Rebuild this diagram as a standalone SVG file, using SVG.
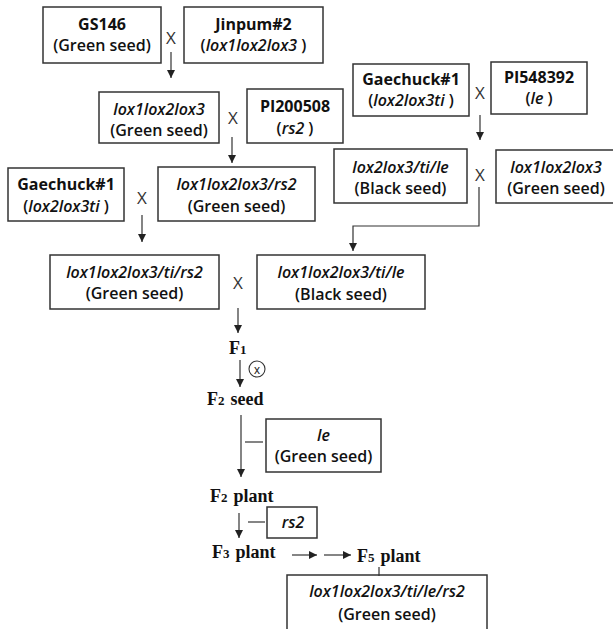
<svg xmlns="http://www.w3.org/2000/svg" width="613" height="629" viewBox="0 0 613 629">
<defs>
<marker id="ah" markerUnits="userSpaceOnUse" markerWidth="8" markerHeight="9" refX="8" refY="4" orient="auto">
<path d="M0,0 L8,4 L0,8 Z" fill="#222"/>
</marker>
<style>
.box{fill:#fff;stroke:#333;stroke-width:1.5}
.t{font-family:"Open Sans","Liberation Sans",sans-serif;font-size:16px;fill:#111;text-anchor:middle;font-weight:600}
.b{font-weight:700}
.i{font-style:italic}
.x{font-family:"Open Sans","Liberation Sans",sans-serif;font-size:17px;fill:#333;text-anchor:middle;font-weight:400}
.f{font-family:"Liberation Serif","Times New Roman",serif;font-size:18px;font-weight:700;fill:#111}
.fs{font-size:13px}
.c{stroke:#333;stroke-width:1.2;fill:none}
.a{stroke:#333;stroke-width:1.2;fill:none;marker-end:url(#ah)}
</style>
</defs>
<rect width="613" height="629" fill="#fff"/>

<g id="gs146"><rect class="box" x="43" y="7" width="118" height="56"/><text class="t b" x="102" y="30">GS146</text><text class="t" x="102" y="51">(Green seed)</text></g>
<g id="jinpum2"><rect class="box" x="184" y="7" width="139" height="56"/><text class="t b" x="253.5" y="30">Jinpum#2</text><text class="t" x="253.5" y="51">(<tspan class="i">lox1lox2lox3</tspan> )</text></g>
<g id="lox123a"><rect class="box" x="99" y="92" width="120" height="51"/><text class="t i" x="159" y="115">lox1lox2lox3</text><text class="t" x="159" y="136">(Green seed)</text></g>
<g id="pi200508"><rect class="box" x="247" y="89" width="96" height="54"/><text class="t b" x="295" y="112">PI200508</text><text class="t" x="295" y="134">(<tspan class="i">rs2</tspan> )</text></g>
<g id="gaechuck1r"><rect class="box" x="353" y="64" width="116" height="52"/><text class="t b" x="411" y="85">Gaechuck#1</text><text class="t" x="411" y="106">(<tspan class="i">lox2lox3ti</tspan> )</text></g>
<g id="pi548392"><rect class="box" x="491" y="62" width="96" height="52"/><text class="t b" x="539" y="83">PI548392</text><text class="t" x="539" y="104">(<tspan class="i">le</tspan> )</text></g>
<g id="lox23tile"><rect class="box" x="334" y="149" width="133" height="54"/><text class="t i" x="400.5" y="173">lox2lox3/ti/le</text><text class="t" x="400.5" y="194">(Black seed)</text></g>
<g id="lox123b"><rect class="box" x="496" y="150" width="124" height="53"/><text class="t i" x="556" y="173">lox1lox2lox3</text><text class="t" x="556" y="194">(Green seed)</text></g>
<g id="gaechuck1l"><rect class="box" x="8" y="168" width="116" height="53"/><text class="t b" x="66" y="190">Gaechuck#1</text><text class="t" x="66" y="212">(<tspan class="i">lox2lox3ti</tspan> )</text></g>
<g id="lox123rs2"><rect class="box" x="158" y="167" width="157" height="54"/><text class="t i" x="236.5" y="190">lox1lox2lox3/rs2</text><text class="t" x="236.5" y="212">(Green seed)</text></g>
<g id="lox123tirs2"><rect class="box" x="50" y="255" width="169" height="54"/><text class="t i" x="134.5" y="278">lox1lox2lox3/ti/rs2</text><text class="t" x="134.5" y="299">(Green seed)</text></g>
<g id="lox123tile"><rect class="box" x="257" y="255" width="168" height="54"/><text class="t i" x="341" y="278">lox1lox2lox3/ti/le</text><text class="t" x="341" y="300">(Black seed)</text></g>
<g id="le"><rect class="box" x="266" y="419" width="115" height="53"/><text class="t i" x="323.5" y="441">le</text><text class="t" x="323.5" y="462">(Green seed)</text></g>
<g id="rs2"><rect class="box" x="267" y="507" width="50" height="31"/><text class="t i" x="293" y="528">rs2</text></g>
<g id="final"><rect class="box" x="287" y="575" width="200" height="70"/><text class="t i" x="387" y="597">lox1lox2lox3/ti/le/rs2</text><text class="t" x="387" y="620">(Green seed)</text></g>

<g id="labels">
<text class="x" x="171" y="44">X</text>
<text class="x" x="233" y="124">X</text>
<text class="x" x="480" y="99">X</text>
<text class="x" x="480" y="181">X</text>
<text class="x" x="142" y="204">X</text>
<text class="x" x="238" y="289">X</text>
<text class="f" x="229" y="354">F<tspan class="fs">1</tspan></text>
<circle cx="257" cy="369" r="8" fill="none" stroke="#333" stroke-width="1.1"/>
<text x="257" y="373.5" font-family="Liberation Sans,sans-serif" font-size="12" text-anchor="middle" fill="#222">x</text>
<text class="f" x="207" y="405">F<tspan class="fs">2</tspan><tspan dx="6">seed</tspan></text>
<text class="f" x="210" y="502">F<tspan class="fs">2</tspan><tspan dx="6">plant</tspan></text>
<text class="f" x="212" y="558">F<tspan class="fs">3</tspan><tspan dx="6">plant</tspan></text>
<text class="f" x="357" y="562">F<tspan class="fs">5</tspan><tspan dx="6">plant</tspan></text>
</g>

<g id="connectors">
<line class="a" x1="171" y1="52" x2="171" y2="78"/>
<line class="a" x1="232" y1="137" x2="232" y2="163"/>
<line class="a" x1="480" y1="115" x2="480" y2="140"/>
<line class="a" x1="142" y1="215" x2="142" y2="242"/>
<polyline class="a" points="479,187 479,226 353,226 353,251"/>
<line class="a" x1="238" y1="308" x2="238" y2="333"/>
<line class="a" x1="240" y1="360" x2="240" y2="387"/>
<line class="a" x1="241" y1="415" x2="241" y2="477"/>
<line class="a" x1="239" y1="513" x2="239" y2="538"/>
<line class="a" x1="292" y1="555" x2="317" y2="555"/>
<line class="a" x1="324" y1="555" x2="351" y2="555"/>
<line class="c" x1="245" y1="442" x2="263" y2="442"/>
<line class="c" x1="248" y1="522" x2="265" y2="522"/>
<line class="c" x1="379" y1="567" x2="379" y2="576"/>
</g>
</svg>
